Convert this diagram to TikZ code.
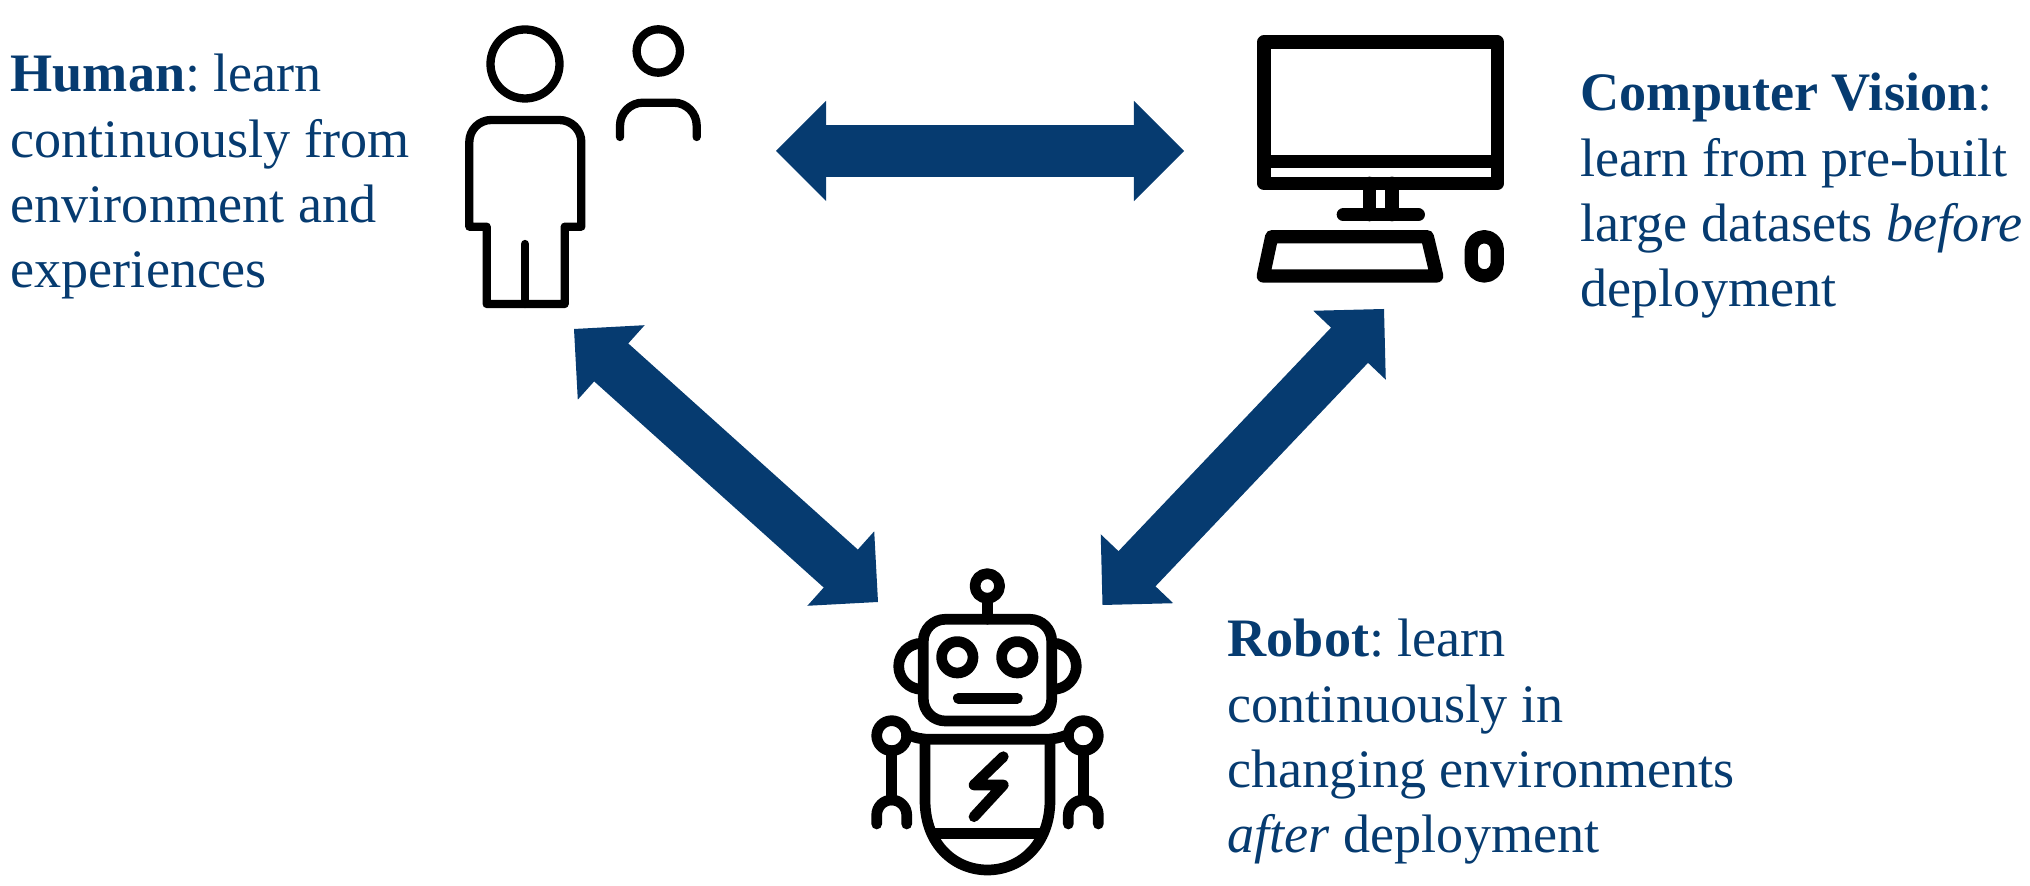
\documentclass[tikz,border=0pt]{standalone}
\usepackage{fontspec}
\setmainfont{Liberation Serif}
\usepackage{tikz}
\usetikzlibrary{arrows.meta}

\definecolor{arrowBlue}{RGB}{6,59,112}
\tikzset{
  biArrow/.style={line width=0.51cm, draw=arrowBlue, line cap=round,
    {Triangle[length=0.5cm,width=1cm,line width=0pt]}-{Triangle[length=0.5cm,width=1cm,line width=0pt]}},
  humanLine/.style={line width=0.083cm, line cap=round, line join=round},
  screenLine/.style={line width=0.133cm, line cap=round, line join=round},
  robotLine/.style={line width=0.107cm, line cap=round, line join=round},
  blurb/.style={anchor=north west, inner sep=0pt, align=left, text=arrowBlue,
    font=\fontsize{15.4}{18.55}\selectfont\frenchspacing}
}

\begin{document}
\begin{tikzpicture}[x=0.01cm, y=-0.01cm]% one unit is one pixel of the reference
    \useasboundingbox (0,0) rectangle (2030,886);

    \coordinate (HumanEast)    at (776,151);
    \coordinate (ScreenWest)   at (1184,151);
    \coordinate (HumanSouth)   at (574,329);
    \coordinate (RobotWest)    at (878,602);
    \coordinate (ScreenSouth)  at (1384,309);
    \coordinate (RobotEast)    at (1102.5,605);

    \draw [biArrow] (HumanEast) -- (ScreenWest);% Top arrow
    \draw [biArrow] (HumanSouth) -- (RobotWest);% Left arrow
    \draw [biArrow] (ScreenSouth) -- (RobotEast);% Right arrow

    % Two people
    \draw [humanLine] (525,64) circle[radius=34.5];
    \draw [humanLine] (658.3,51) circle[radius=21.7];
    \draw [humanLine, rounded corners=0.23cm] (620,137) -- (620,102.7) -- (696.7,102.7) -- (696.7,137);
    \draw [humanLine] (486.7,226.7) -- (469.3,226.7)
        [rounded corners=0.22cm] -- (469.3,120) -- (581.3,120)
        [sharp corners] -- (581.3,226.7) -- (564.7,226.7) -- (564.7,304) -- (486.7,304) -- cycle;
    \draw [humanLine] (525,244) -- (525,304);

    % Computer
    \draw [screenLine] (1264,42) rectangle (1497.3,183.3);
    \draw [screenLine] (1264,161.3) -- (1497.3,161.3);
    \draw [screenLine] (1369.7,183.3) -- (1369.7,214.7);
    \draw [screenLine] (1392,183.3) -- (1392,214.7);
    \draw [screenLine] (1343.3,214.7) -- (1418.3,214.7);
    \draw [screenLine] (1271.7,236.7) -- (1427.3,236.7) -- (1436.7,276) -- (1263.3,276) -- cycle;
    \draw [screenLine, rounded corners=0.13cm] (1471.3,236.7) rectangle (1497.3,276);

    % Robot
    \draw [robotLine] (987.3,586) circle[radius=12.3];
    \draw [robotLine] (987.3,598.3) -- (987.3,619.3);
    \draw [robotLine, rounded corners=0.22cm] (923.3,619.3) rectangle (1051.7,721);
    \draw [robotLine] (921.7,643.3) arc[start angle=270, end angle=90, radius=23];
    \draw [robotLine] (1053.3,643.3) arc[start angle=-90, end angle=90, radius=23];
    \foreach \x in {957.3,1017.3}{%
      \draw [robotLine] (\x,657.3) circle[radius=15.7];
    }
    \draw [robotLine] (958.3,698.3) -- (1017.3,698.3);
    \draw [robotLine] (906,734) .. controls (915,738) and (922,739.3) .. (930,739.3) -- (1045,739.3)
        .. controls (1053,739.3) and (1060,738) .. (1069,734);
    \foreach \x in {891.7,1083.3}{%
      \draw [robotLine] (\x,735.7) circle[radius=15];
      \draw [robotLine] (\x,750.7) -- (\x,800);
      \draw [robotLine] (\x-15,824) -- (\x-15,815) arc[start angle=180, end angle=360, radius=15] -- (\x+15,824);
    }
    \draw [robotLine] (925,739.3) -- (925,800) .. controls (925,845) and (955,870) .. (987.5,870)
        .. controls (1020,870) and (1050,845) .. (1050,800) -- (1050,739.3);
    \draw [robotLine] (933,833.3) -- (1041.7,833.3);
    \draw [robotLine] (1003.3,756.7) -- (974,785) -- (1003.3,785) -- (974,816.7);

    \node [blurb] (HumanText) at (10,53.5) {\textbf{Human}: learn\\continuously from\\environment and\\experiences};
    \node [blurb] (ScreenText) at (1580,72.5) {\textbf{Computer Vision}:\\learn from pre-built\\large datasets \textit{before}\\deployment};
    \node [blurb] (RobotText) at (1227,618.5) {\textbf{Robot}: learn\\continuously in\\changing environments\\\textit{after} deployment};
\end{tikzpicture}
\end{document}
